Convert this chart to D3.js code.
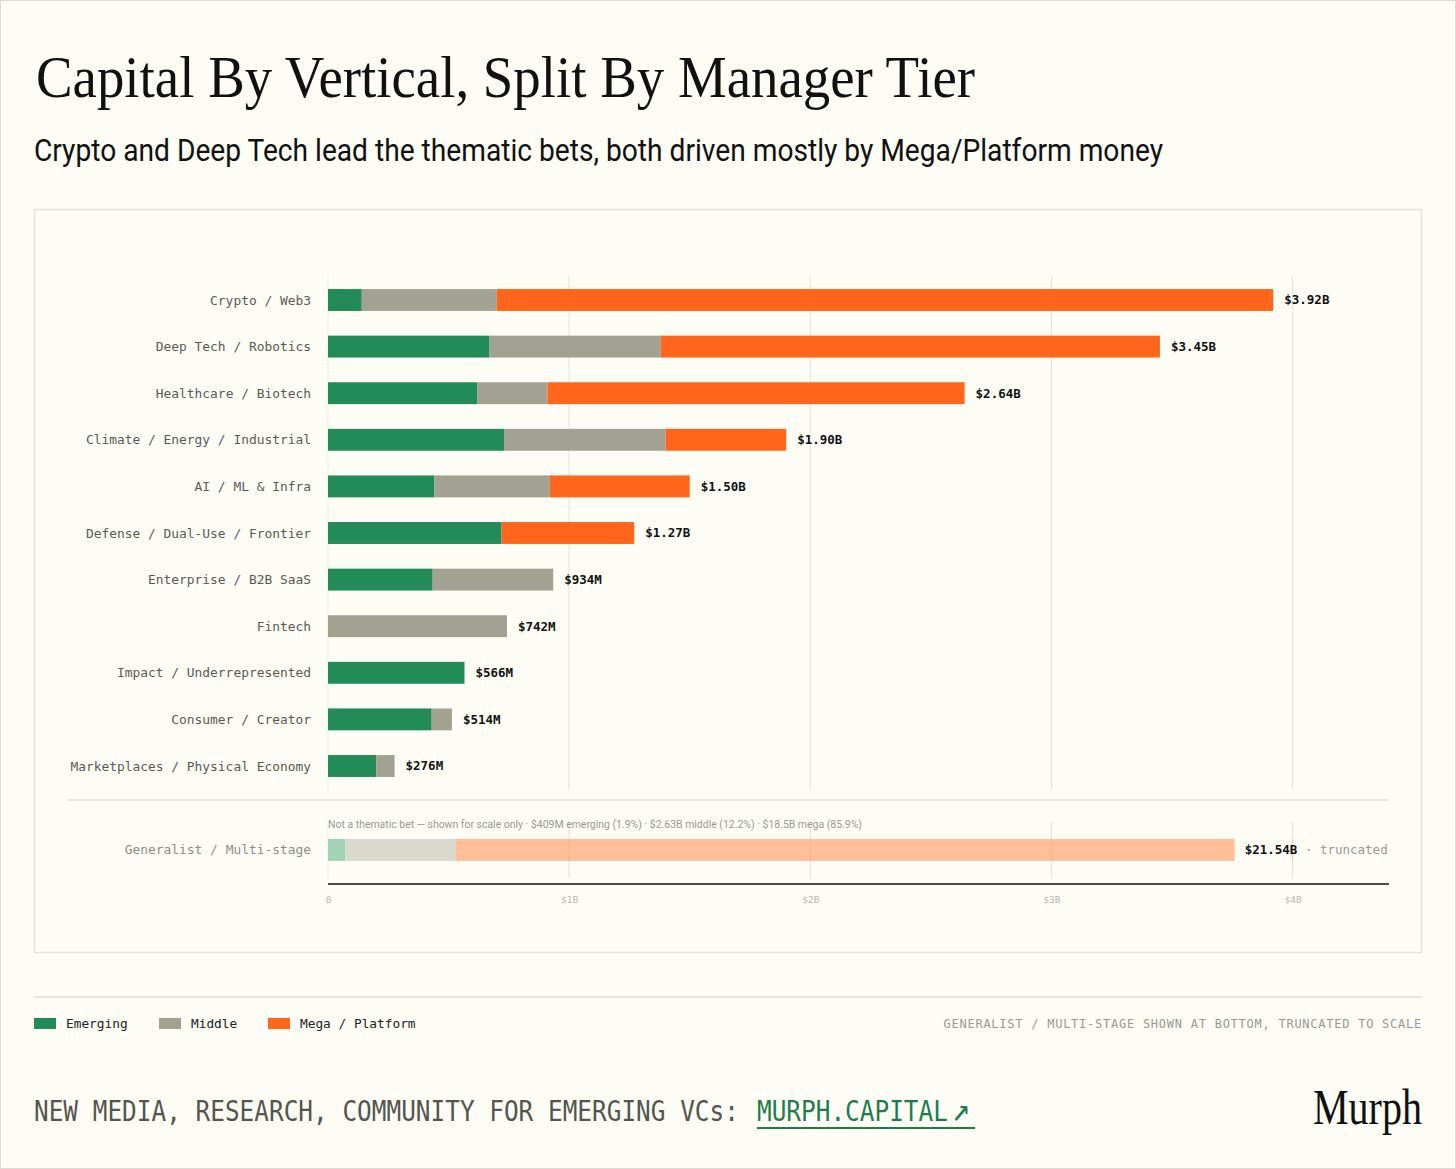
<!DOCTYPE html>
<html>
<head>
<meta charset="utf-8">
<script src="https://cdn.jsdelivr.net/npm/d3@7"></script>
<style>
  html, body { margin: 0; padding: 0; background: #fdfdf6; }
  svg { display: block; }
</style>
</head>
<body>
<script>
// verticals, top to bottom, values in $B
var categories = [
  "Crypto / Web3",
  "Deep Tech / Robotics",
  "Healthcare / Biotech",
  "Climate / Energy / Industrial",
  "AI / ML & Infra",
  "Defense / Dual-Use / Frontier",
  "Enterprise / B2B SaaS",
  "Fintech",
  "Impact / Underrepresented",
  "Consumer / Creator",
  "Marketplaces / Physical Economy"
];
var emerging = [0.14, 0.67, 0.62, 0.73, 0.44, 0.72, 0.434, 0, 0.566, 0.43, 0.20];
var middle   = [0.56, 0.71, 0.29, 0.67, 0.48, 0, 0.50, 0.742, 0, 0.084, 0.076];
var mega     = [3.22, 2.07, 1.73, 0.50, 0.58, 0.55, 0, 0, 0, 0, 0];

// generalist row, shown faded and truncated to scale
var genLabel = "Generalist / Multi-stage";
var genValues = [0.409, 2.63, 18.5];
var genTotal = "$21.54B";
var genShownAs = 3.76;
var genNote = "Not a thematic bet \u2014 shown for scale only \u00b7 $409M emerging (1.9%) \u00b7 $2.63B middle (12.2%) \u00b7 $18.5B mega (85.9%)";

var tiers = ["Emerging", "Middle", "Mega / Platform"];
var tickValues = [0, 1, 2, 3, 4];
var tickLabels = ["0", "$1B", "$2B", "$3B", "$4B"];

var colors = ["#228b57", "#a2a292", "#ff661c"];
var faded = ["#a3d3b7", "#d9d9cd", "#ffbf98"];

var W = 1456, H = 1169;
var mono = "'DejaVu Sans Mono', 'Liberation Mono', monospace";

var svg = d3.select(document.body).append("svg")
    .attr("width", W).attr("height", H);

svg.append("rect").attr("x", 0.5).attr("y", 0.5)
    .attr("width", W - 1).attr("height", H - 1)
    .attr("fill", "#fdfdf6").attr("stroke", "#dcdcd4");

// title + subtitle
svg.append("text")
    .attr("x", 36).attr("y", 97)
    .attr("font-family", "'Liberation Serif', 'DejaVu Serif', serif")
    .attr("font-size", 60)
    .attr("textLength", 939).attr("lengthAdjust", "spacingAndGlyphs")
    .attr("fill", "#111")
    .text("Capital By Vertical, Split By Manager Tier");

svg.append("text")
    .attr("x", 34).attr("y", 161)
    .attr("font-family", "Roboto, 'Noto Sans', sans-serif")
    .attr("font-size", 31)
    .attr("textLength", 1129).attr("lengthAdjust", "spacingAndGlyphs")
    .attr("fill", "#111")
    .text("Crypto and Deep Tech lead the thematic bets, both driven mostly by Mega/Platform money");

// chart frame
svg.append("rect")
    .attr("x", 34.5).attr("y", 209.5).attr("width", 1387).attr("height", 743)
    .attr("fill", "none").attr("stroke", "#e2e2da").attr("stroke-width", 1.5);

var x = d3.scaleLinear().domain([0, 4.4]).range([328, 1389]);
var y = d3.scaleBand().domain(categories).range([276.7, 789.3])
    .paddingInner(0.53).paddingOuter(0.265);

var fmt = function(v) {
    return v < 1 ? "$" + Math.round(v * 1000) + "M" : "$" + v.toFixed(2) + "B";
};

// grid, upper block
var g = svg.append("g");
g.selectAll(".grid").data(tickValues).enter().append("line")
    .attr("x1", function(d){ return x(d); }).attr("x2", function(d){ return x(d); })
    .attr("y1", 276).attr("y2", 789)
    .attr("stroke", function(d){ return d === 0 ? "#f0f0e8" : "#e6e6de"; })
    .attr("stroke-width", 1.2);

var rows = categories.map(function(c, i) {
    return { cat: c, Emerging: emerging[i], Middle: middle[i], "Mega / Platform": mega[i] };
});
var stacked = d3.stack().keys(tiers)(rows);

g.selectAll(".tier").data(stacked).enter().append("g")
    .attr("fill", function(d, i){ return colors[i]; })
  .selectAll("rect").data(function(d){ return d; }).enter().append("rect")
    .attr("x", function(d){ return x(d[0]); })
    .attr("width", function(d){ return x(d[1]) - x(d[0]); })
    .attr("y", function(d){ return y(d.data.cat); })
    .attr("height", y.bandwidth());

g.selectAll(".cat").data(categories).enter().append("text")
    .attr("x", 311)
    .attr("y", function(d){ return y(d) + y.bandwidth() / 2; })
    .attr("dy", "0.35em")
    .attr("text-anchor", "end")
    .attr("font-family", mono).attr("font-size", 12.9)
    .attr("fill", "#5a5a55")
    .text(function(d){ return d; });

g.selectAll(".val").data(rows).enter().append("text")
    .attr("x", function(d){ return x(d.Emerging + d.Middle + d["Mega / Platform"]) + 11; })
    .attr("y", function(d){ return y(d.cat) + y.bandwidth() / 2; })
    .attr("dy", "0.35em")
    .attr("font-family", mono).attr("font-size", 12.5).attr("font-weight", 600)
    .attr("fill", "#111")
    .text(function(d){ return fmt(d.Emerging + d.Middle + d["Mega / Platform"]); });

// separator between thematic and generalist
svg.append("line")
    .attr("x1", 67).attr("x2", 1389).attr("y1", 800).attr("y2", 800)
    .attr("stroke", "#e6e6de").attr("stroke-width", 2);

// generalist block
var gy = 839, gh = y.bandwidth();
var gen = svg.append("g");
gen.selectAll(".ggrid").data(tickValues).enter().append("line")
    .attr("x1", function(d){ return x(d); }).attr("x2", function(d){ return x(d); })
    .attr("y1", 822).attr("y2", 878)
    .attr("stroke", function(d){ return d === 0 ? "#f0f0e8" : "#e6e6de"; })
    .attr("stroke-width", 1.2);

var genSum = d3.sum(genValues);
var k = genShownAs / genSum;
var acc = 0;
var genSegs = genValues.map(function(v, i) {
    var s = { x0: acc * k, x1: (acc + v) * k, i: i };
    acc += v;
    return s;
});
gen.selectAll("rect").data(genSegs).enter().append("rect")
    .attr("x", function(d){ return x(d.x0); })
    .attr("width", function(d){ return x(d.x1) - x(d.x0); })
    .attr("y", gy).attr("height", gh)
    .attr("fill", function(d){ return faded[d.i]; });

// grid lines drawn faintly over the faded bar
gen.selectAll(".ggrid2").data(tickValues.slice(1)).enter().append("line")
    .attr("x1", function(d){ return x(d); }).attr("x2", function(d){ return x(d); })
    .attr("y1", gy).attr("y2", gy + gh)
    .attr("stroke", "#e9a985").attr("stroke-opacity", 0.45).attr("stroke-width", 1);

gen.append("text")
    .attr("x", 328).attr("y", 828)
    .attr("font-family", "Roboto, 'Noto Sans', sans-serif").attr("font-size", 10)
    .attr("textLength", 534).attr("lengthAdjust", "spacingAndGlyphs")
    .attr("fill", "#9a9a92")
    .text(genNote);

gen.append("text")
    .attr("x", 311).attr("y", gy + gh / 2).attr("dy", "0.35em")
    .attr("text-anchor", "end")
    .attr("font-family", mono).attr("font-size", 12.9)
    .attr("fill", "#8e8e88")
    .text(genLabel);

var gt = gen.append("text")
    .attr("x", x(genShownAs) + 10).attr("y", gy + gh / 2).attr("dy", "0.35em")
    .attr("font-family", mono).attr("font-size", 12.5);
gt.append("tspan").attr("font-weight", 600).attr("fill", "#111").text(genTotal);
gt.append("tspan").attr("fill", "#9a9a92").text(" \u00b7 truncated");

// axis
var axis = svg.append("g").attr("transform", "translate(0,884)")
    .call(d3.axisBottom(x).tickValues(tickValues)
        .tickFormat(function(d, i){ return tickLabels[i]; })
        .tickSize(0).tickPadding(12));
axis.select(".domain").remove();
axis.selectAll("text")
    .attr("font-family", mono).attr("font-size", 9.5)
    .attr("fill", "#b8b8b0");
svg.append("line")
    .attr("x1", 328).attr("x2", 1389).attr("y1", 884).attr("y2", 884)
    .attr("stroke", "#111").attr("stroke-width", 1.5);

// legend
svg.append("line")
    .attr("x1", 34).attr("x2", 1422).attr("y1", 997).attr("y2", 997)
    .attr("stroke", "#e6e6de").attr("stroke-width", 2);

var legendX = [34, 159, 268];
var lg = svg.selectAll(".lg").data(tiers).enter().append("g")
    .attr("transform", function(d, i){ return "translate(" + legendX[i] + ",1018)"; });
lg.append("rect").attr("width", 22).attr("height", 11)
    .attr("fill", function(d, i){ return colors[i]; });
lg.append("text").attr("x", 32).attr("y", 5.5).attr("dy", "0.35em")
    .attr("font-family", mono).attr("font-size", 12.8).attr("fill", "#222")
    .text(function(d){ return d; });

svg.append("text")
    .attr("x", 1422).attr("y", 1024).attr("dy", "0.35em")
    .attr("text-anchor", "end")
    .attr("font-family", mono).attr("font-size", 12).attr("letter-spacing", 0.75)
    .attr("fill", "#9a9a92")
    .text("GENERALIST / MULTI-STAGE SHOWN AT BOTTOM, TRUNCATED TO SCALE");

// footer, monospace stretched vertically to match the tall condensed face
var foot = svg.append("g").attr("transform", "translate(0,1121) scale(1,1.17)");
foot.append("text")
    .attr("x", 34).attr("y", 0)
    .attr("font-family", mono).attr("font-size", 24.4)
    .attr("fill", "#555550")
    .text("NEW MEDIA, RESEARCH, COMMUNITY FOR EMERGING VCs:");
var link = foot.append("text")
    .attr("x", 757).attr("y", 0)
    .attr("font-family", mono).attr("font-size", 24.4)
    .attr("fill", "#1f7d4c");
link.append("tspan").text("MURPH.CAPITAL");
link.append("tspan").attr("font-size", 30).attr("dx", 4).text("\u2197");
svg.append("line")
    .attr("x1", 757).attr("x2", 975).attr("y1", 1128).attr("y2", 1128)
    .attr("stroke", "#1f7d4c").attr("stroke-width", 2);

svg.append("text")
    .attr("x", 1422).attr("y", 1124)
    .attr("text-anchor", "end")
    .attr("font-family", "'Liberation Serif', 'DejaVu Serif', serif")
    .attr("font-size", 50)
    .attr("textLength", 109).attr("lengthAdjust", "spacingAndGlyphs")
    .attr("fill", "#111")
    .text("Murph");
</script>
</body>
</html>
